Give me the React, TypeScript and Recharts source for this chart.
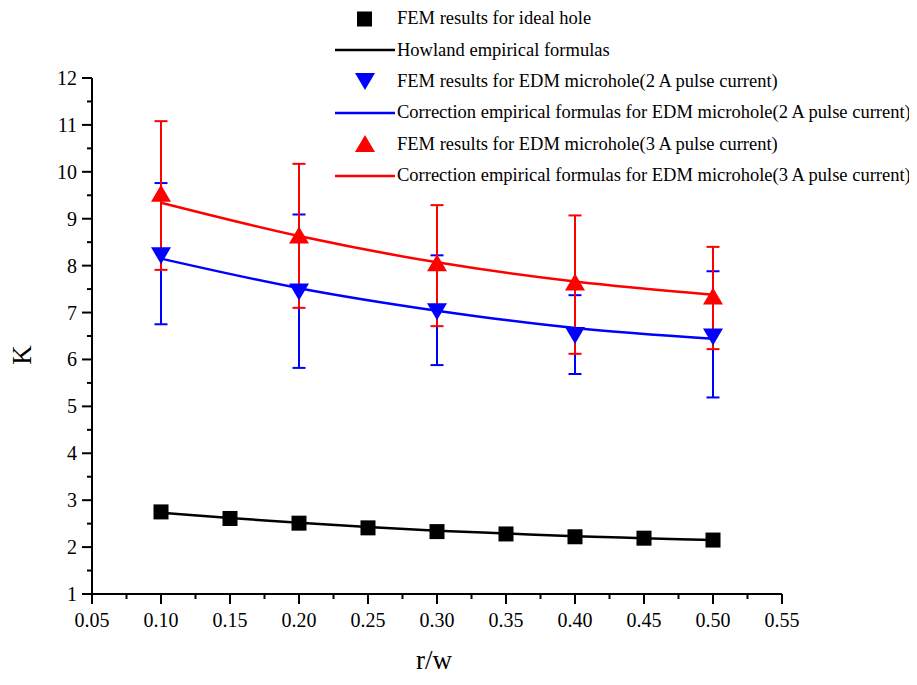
import React from 'react';
import { ComposedChart, Line, Scatter, XAxis, YAxis, ErrorBar, Label } from 'recharts';

// ---- data ----
const rwIdeal = [0.10, 0.15, 0.20, 0.25, 0.30, 0.35, 0.40, 0.45, 0.50];
const femIdeal = [2.75, 2.61, 2.51, 2.41, 2.33, 2.28, 2.22, 2.19, 2.15];
const howland = [2.73, 2.62, 2.52, 2.43, 2.35, 2.29, 2.23, 2.19, 2.15];

const rwEdm = [0.10, 0.20, 0.30, 0.40, 0.50];
const fem2A = [8.22, 7.45, 7.03, 6.52, 6.49];
const fem2AErrMinus = [1.47, 1.63, 1.15, 0.83, 1.30];
const fem2AErrPlus = [1.54, 1.64, 1.19, 0.85, 1.39];
const corr2A = [8.15, 7.52, 7.04, 6.67, 6.44];

const fem3A = [9.53, 8.64, 8.05, 7.64, 7.34];
const fem3AErrMinus = [1.62, 1.54, 1.34, 1.52, 1.12];
const fem3AErrPlus = [1.55, 1.53, 1.24, 1.43, 1.06];
const corr3A = [9.34, 8.63, 8.07, 7.66, 7.38];

const xMajorTicks = [0.05, 0.10, 0.15, 0.20, 0.25, 0.30, 0.35, 0.40, 0.45, 0.50, 0.55];
const yMajorTicks = [1, 2, 3, 4, 5, 6, 7, 8, 9, 10, 11, 12];

const legendNames = [
  'FEM results for ideal hole',
  'Howland empirical formulas',
  'FEM results for EDM microhole(2 A pulse current)',
  'Correction empirical formulas for EDM microhole(2 A pulse current)',
  'FEM results for EDM microhole(3 A pulse current)',
  'Correction empirical formulas for EDM microhole(3 A pulse current)',
];

// ---- tables built from arrays ----
const idealData = rwIdeal.map((x, i) => ({ x, fem: femIdeal[i], howland: howland[i] }));
const edmData = rwEdm.map((x, i) => ({
  x,
  fem2A: fem2A[i],
  err2A: [fem2AErrMinus[i], fem2AErrPlus[i]],
  corr2A: corr2A[i],
  fem3A: fem3A[i],
  err3A: [fem3AErrMinus[i], fem3AErrPlus[i]],
  corr3A: corr3A[i],
}));

const withMinor = (arr: number[]) => {
  const out: number[] = [];
  arr.forEach((v, i) => {
    out.push(v);
    if (i < arr.length - 1) out.push((v + arr[i + 1]) / 2);
  });
  return out;
};
const xTicks = withMinor(xMajorTicks);
const yTicks = withMinor(yMajorTicks);

const FONT = "'Liberation Serif', 'DejaVu Serif', serif";
const BLUE = '#0000ff';
const RED = '#ff0000';

const isMajor = (v: number, list: number[]) => list.some((m) => Math.abs(m - v) < 1e-6);

const YTick = (props: any) => {
  const { x, y, payload } = props;
  const major = isMajor(payload.value, yMajorTicks);
  return (
    <g>
      <line x1={x} x2={x - (major ? 10 : 5)} y1={y} y2={y} stroke="#000" strokeWidth={2} />
      {major && (
        <text x={x - 15} y={y} textAnchor="end" dominantBaseline="central" style={{ fontFamily: FONT }} fontSize={20} fill="#000">
          {payload.value}
        </text>
      )}
    </g>
  );
};

const XTick = (props: any) => {
  const { x, y, payload } = props;
  const major = isMajor(payload.value, xMajorTicks);
  return (
    <g>
      <line x1={x} x2={x} y1={y} y2={y + (major ? 10 : 5)} stroke="#000" strokeWidth={2} />
      {major && (
        <text x={x} y={y + 26} textAnchor="middle" dominantBaseline="central" style={{ fontFamily: FONT }} fontSize={20} fill="#000">
          {Number(payload.value).toFixed(2)}
        </text>
      )}
    </g>
  );
};

const Square = (p: any) => <rect x={p.cx - 7.5} y={p.cy - 7.5} width={15} height={15} fill="#000" />;
const TriDown = (p: any) => (
  <polygon points={`${p.cx - 10},${p.cy - 8} ${p.cx + 10},${p.cy - 8} ${p.cx},${p.cy + 9}`} fill={BLUE} />
);
const TriUp = (p: any) => (
  <polygon points={`${p.cx - 10},${p.cy + 8} ${p.cx + 10},${p.cy + 8} ${p.cx},${p.cy - 9}`} fill={RED} />
);

const legendSymbols = [
  <rect x={22} y={7.5} width={15} height={15} fill="#000" />,
  <line x1={0} x2={60} y1={15} y2={15} stroke="#000" strokeWidth={2.5} />,
  <polygon points="20,7 40,7 30,24" fill={BLUE} />,
  <line x1={0} x2={60} y1={15} y2={15} stroke={BLUE} strokeWidth={2.5} />,
  <polygon points="20,23 40,23 30,6" fill={RED} />,
  <line x1={0} x2={60} y1={15} y2={15} stroke={RED} strokeWidth={2.5} />,
];

const Legend = () => (
  <div style={{ position: 'absolute', left: 327, top: -5, fontFamily: FONT, fontSize: 18.5, color: '#000' }}>
    {legendNames.map((name, i) => (
      <div key={i} style={{ display: 'flex', alignItems: 'center', height: 31.4, whiteSpace: 'nowrap' }}>
        <svg width={62} height={30} style={{ flex: 'none' }}>{legendSymbols[i]}</svg>
        <span>{name}</span>
      </div>
    ))}
  </div>
);

export default function App() {
  return (
    <div style={{ position: 'relative', width: 900, height: 670, fontFamily: FONT }}>
      <ComposedChart width={900} height={670} margin={{ top: 70, right: 126, bottom: 24, left: 24 }}>
        <XAxis
          type="number"
          dataKey="x"
          domain={[0.05, 0.55]}
          ticks={xTicks}
          interval={0}
          tick={<XTick />}
          tickLine={false}
          tickSize={0}
          tickMargin={0}
          height={60}
          axisLine={{ stroke: '#000', strokeWidth: 2 }}
          allowDataOverflow
        >
          <Label
            content={(p: any) => {
              const vb = p.viewBox || { x: 84, y: 586, width: 690 };
              return (
                <text x={vb.x + vb.width / 2 - 3} y={vb.y + 66} textAnchor="middle" dominantBaseline="central" style={{ fontFamily: FONT }} fontSize={27} fill="#000">
                  r/w
                </text>
              );
            }}
          />
        </XAxis>
        <YAxis
          type="number"
          domain={[1, 12]}
          ticks={yTicks}
          interval={0}
          tick={<YTick />}
          tickLine={false}
          tickSize={0}
          tickMargin={0}
          width={60}
          axisLine={{ stroke: '#000', strokeWidth: 2 }}
          allowDataOverflow
        >
          <Label
            content={(p: any) => {
              const vb = p.viewBox || { x: 24, y: 70, height: 516 };
              const cx = vb.x - 10;
              const cy = vb.y + vb.height / 2 + 19;
              return (
                <text x={cx} y={cy} textAnchor="middle" dominantBaseline="central" style={{ fontFamily: FONT }} fontSize={27} fill="#000" transform={`rotate(-90, ${cx}, ${cy})`}>
                  K
                </text>
              );
            }}
          />
        </YAxis>

        <Line data={idealData} dataKey="howland" type="monotone" stroke="#000" strokeWidth={2.5} dot={false} isAnimationActive={false} />
        <Scatter data={idealData} dataKey="fem" shape={Square} isAnimationActive={false} />

        <Line data={edmData} dataKey="corr2A" type="monotone" stroke={BLUE} strokeWidth={2.5} dot={false} isAnimationActive={false} />
        <Scatter data={edmData} dataKey="fem2A" shape={TriDown} isAnimationActive={false}>
          <ErrorBar dataKey="err2A" direction="y" width={6.5} stroke={BLUE} strokeWidth={2} />
        </Scatter>

        <Line data={edmData} dataKey="corr3A" type="monotone" stroke={RED} strokeWidth={2.5} dot={false} isAnimationActive={false} />
        <Scatter data={edmData} dataKey="fem3A" shape={TriUp} isAnimationActive={false}>
          <ErrorBar dataKey="err3A" direction="y" width={6.5} stroke={RED} strokeWidth={2} />
        </Scatter>
      </ComposedChart>
      <Legend />
    </div>
  );
}
